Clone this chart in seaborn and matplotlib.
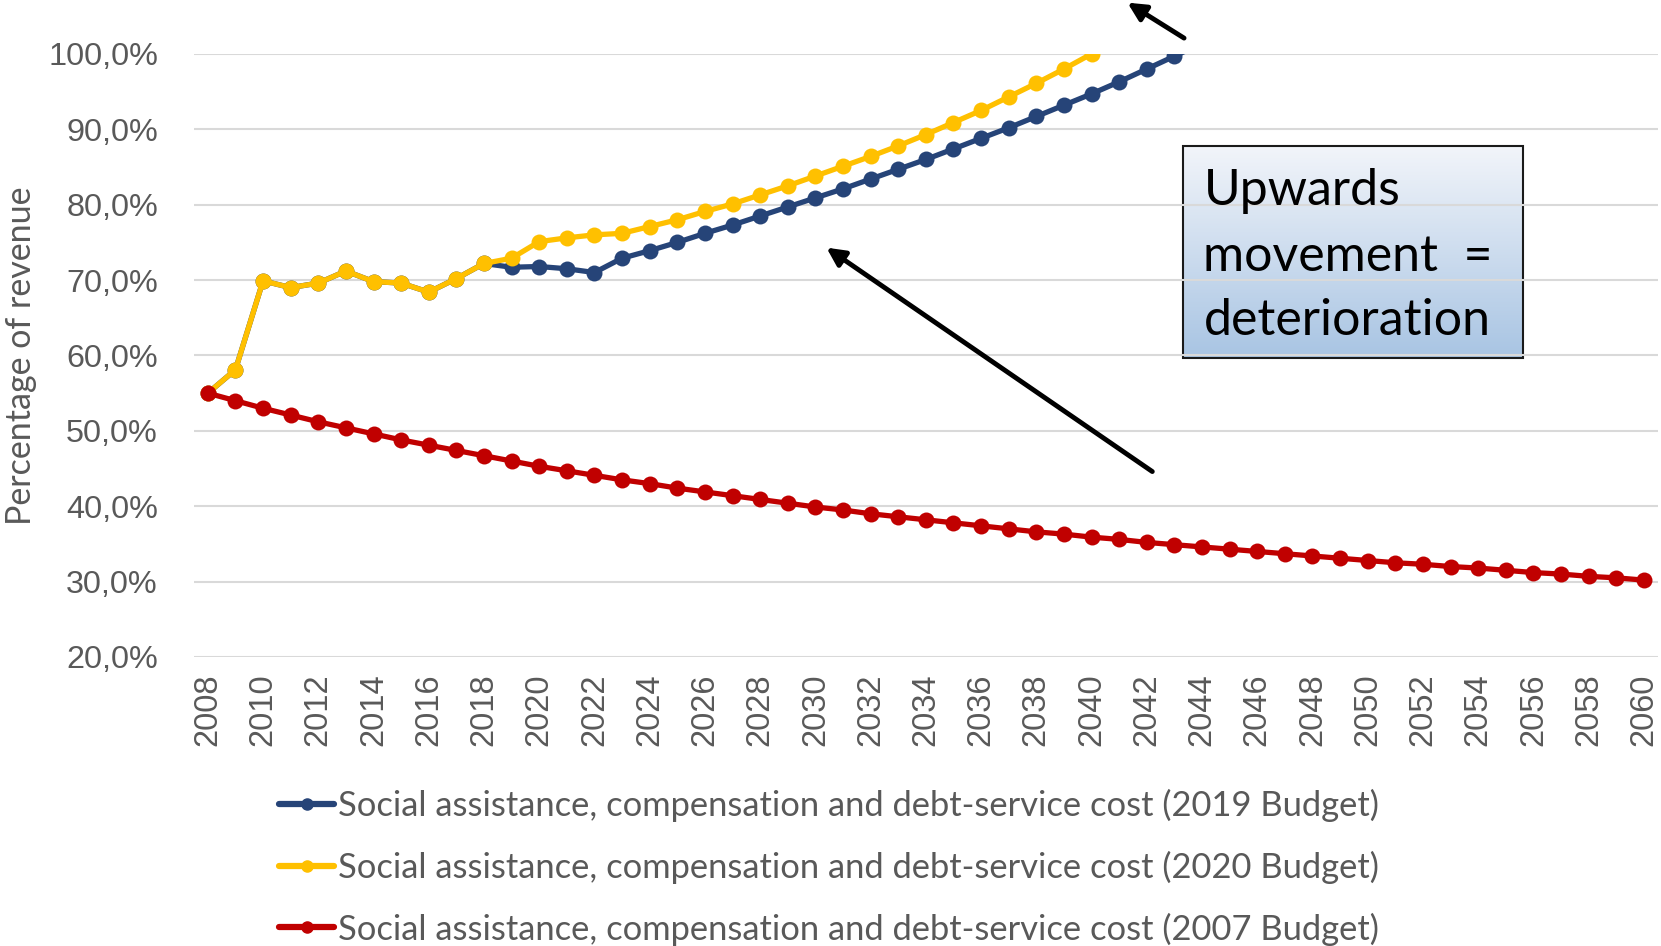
import numpy as np
import pandas as pd
import seaborn as sns
import matplotlib.pyplot as plt
from matplotlib.ticker import FuncFormatter, MultipleLocator
from matplotlib.lines import Line2D
from matplotlib.patches import Rectangle

# ---- data -------------------------------------------------------------
years_2019 = list(range(2008, 2045))
budget_2019 = [55.0, 58.1, 69.9, 69.0, 69.6, 71.2, 69.8, 69.6, 68.4, 70.2,
               72.2, 71.7, 71.8, 71.5, 71.0, 72.9, 73.9, 75.0, 76.2, 77.3,
               78.5, 79.7, 80.9, 82.1, 83.4, 84.7, 86.0, 87.4, 88.8, 90.2,
               91.7, 93.2, 94.7, 96.3, 98.0, 99.7, 101.4]

years_2020 = list(range(2008, 2041))
budget_2020 = [55.0, 58.1, 69.9, 69.0, 69.6, 71.2, 69.8, 69.6, 68.4, 70.2,
               72.2, 72.9, 75.1, 75.6, 76.0, 76.2, 77.1, 78.0, 79.1, 80.1,
               81.3, 82.5, 83.8, 85.1, 86.4, 87.8, 89.3, 90.9, 92.5, 94.3,
               96.1, 98.0, 100.0]

years_2007 = list(range(2008, 2061))
budget_2007 = [55.0, 54.0, 53.0, 52.1, 51.2, 50.4, 49.6, 48.8, 48.1, 47.4,
               46.7, 46.0, 45.3, 44.7, 44.1, 43.5, 43.0, 42.4, 41.9, 41.4,
               40.9, 40.4, 39.9, 39.5, 39.0, 38.6, 38.2, 37.8, 37.4, 37.0,
               36.6, 36.3, 35.9, 35.6, 35.2, 34.9, 34.6, 34.3, 34.0, 33.7,
               33.4, 33.1, 32.8, 32.5, 32.3, 32.0, 31.8, 31.5, 31.2, 31.0,
               30.7, 30.5, 30.2]

series_labels = [
    "Social assistance, compensation and debt-service cost (2019 Budget)",
    "Social assistance, compensation and debt-service cost (2020 Budget)",
    "Social assistance, compensation and debt-service cost (2007 Budget)",
]
series_colors = ["#264478", "#FFC000", "#C00000"]
box_lines = ["Upwards", "movement  =", "deterioration"]

# ---- figure -----------------------------------------------------------
sns.set_theme(style="white")
plt.rcParams["font.family"] = ["Lato", "DejaVu Sans"]

fig = plt.figure(figsize=(16.61, 9.46), dpi=100)
ax = fig.add_axes([0.1168, 0.3055, 0.8812, 0.6375])

series = [(years_2019, budget_2019), (years_2020, budget_2020), (years_2007, budget_2007)]
for (xs, ys), lab, col in zip(series, series_labels, series_colors):
    sns.lineplot(x=xs, y=ys, ax=ax, color=col, linewidth=3.8, marker="o",
                 markersize=11.5, markeredgecolor=col, markeredgewidth=0,
                 label=lab, legend=False, zorder=3)

ax.set_xlim(2007.5, 2060.5)
ax.set_ylim(20, 100)
ax.yaxis.set_major_locator(MultipleLocator(10))
ax.yaxis.set_major_formatter(FuncFormatter(lambda v, p: f"{v:.1f}%".replace(".", ",")))
ax.set_xticks(range(2008, 2061, 2))
ax.tick_params(axis="x", labelrotation=90, pad=12, length=0, labelsize=23.5,
               labelcolor="#595959")
ax.tick_params(axis="y", pad=26, length=0, labelsize=23.3, labelcolor="#595959")
for lab in ax.get_xticklabels() + ax.get_yticklabels():
    lab.set_fontfamily(["Liberation Sans", "DejaVu Sans"])

ax.grid(axis="y", color="#D9D9D9", linewidth=1.5, zorder=0.5)
ax.grid(axis="x", visible=False)
ax.set_axisbelow(True)
for s in ax.spines.values():
    s.set_visible(False)

ax.set_ylabel("Percentage of revenue", fontsize=24.5, color="#595959", labelpad=8)
ax.set_xlabel("")

# ---- annotation box with gradient fill --------------------------------
bx0, bx1, by0, by1 = 2043.31, 2055.62, 59.63, 87.76
grad = np.linspace(0, 1, 256).reshape(-1, 1)
top_c = np.array([0.95, 0.96, 0.98])
bot_c = np.array([0.66, 0.77, 0.89])
img = top_c[None, None, :] * (1 - grad[:, :, None]) + bot_c[None, None, :] * grad[:, :, None]
ax.imshow(img, extent=[bx0, bx1, by0, by1], aspect="auto", origin="upper",
          zorder=0.2, interpolation="bilinear")
ax.add_patch(Rectangle((bx0, by0), bx1 - bx0, by1 - by0, fill=False,
                       edgecolor="#1a1a1a", linewidth=1.5, zorder=0.3))
for txt, yb in zip(box_lines, [80.0, 71.2, 62.7]):
    ax.text(2044.05, yb, txt, fontsize=36, color="black", ha="left",
            va="baseline", zorder=4)
ax.set_xlim(2007.5, 2060.5)
ax.set_ylim(20, 100)

# ---- arrows -----------------------------------------------------------
arrow_kw = dict(arrowstyle="-|>,head_length=0.9,head_width=0.45", color="black",
                lw=3.5, shrinkA=0, shrinkB=0)
ax.annotate("", xy=(2030.4, 74.3), xytext=(2042.2, 44.6),
            arrowprops=arrow_kw, annotation_clip=False, zorder=5)
ax.annotate("", xy=(2041.3, 106.8), xytext=(2043.35, 102.1),
            arrowprops=arrow_kw, annotation_clip=False, zorder=5)

# ---- legend -----------------------------------------------------------
handles = [Line2D([], [], color=c, linewidth=4.5, marker="o", markersize=8,
                  markeredgecolor=c) for c in series_colors]
leg = fig.legend(handles, series_labels, loc="upper left",
                 bbox_to_anchor=(0.168, 0.166), frameon=False,
                 fontsize=24.8, handlelength=1.6, handletextpad=0.1,
                 labelspacing=0.83, borderaxespad=0, borderpad=0)
for t in leg.get_texts():
    t.set_color("#595959")

fig.savefig("out.png", dpi=100)
